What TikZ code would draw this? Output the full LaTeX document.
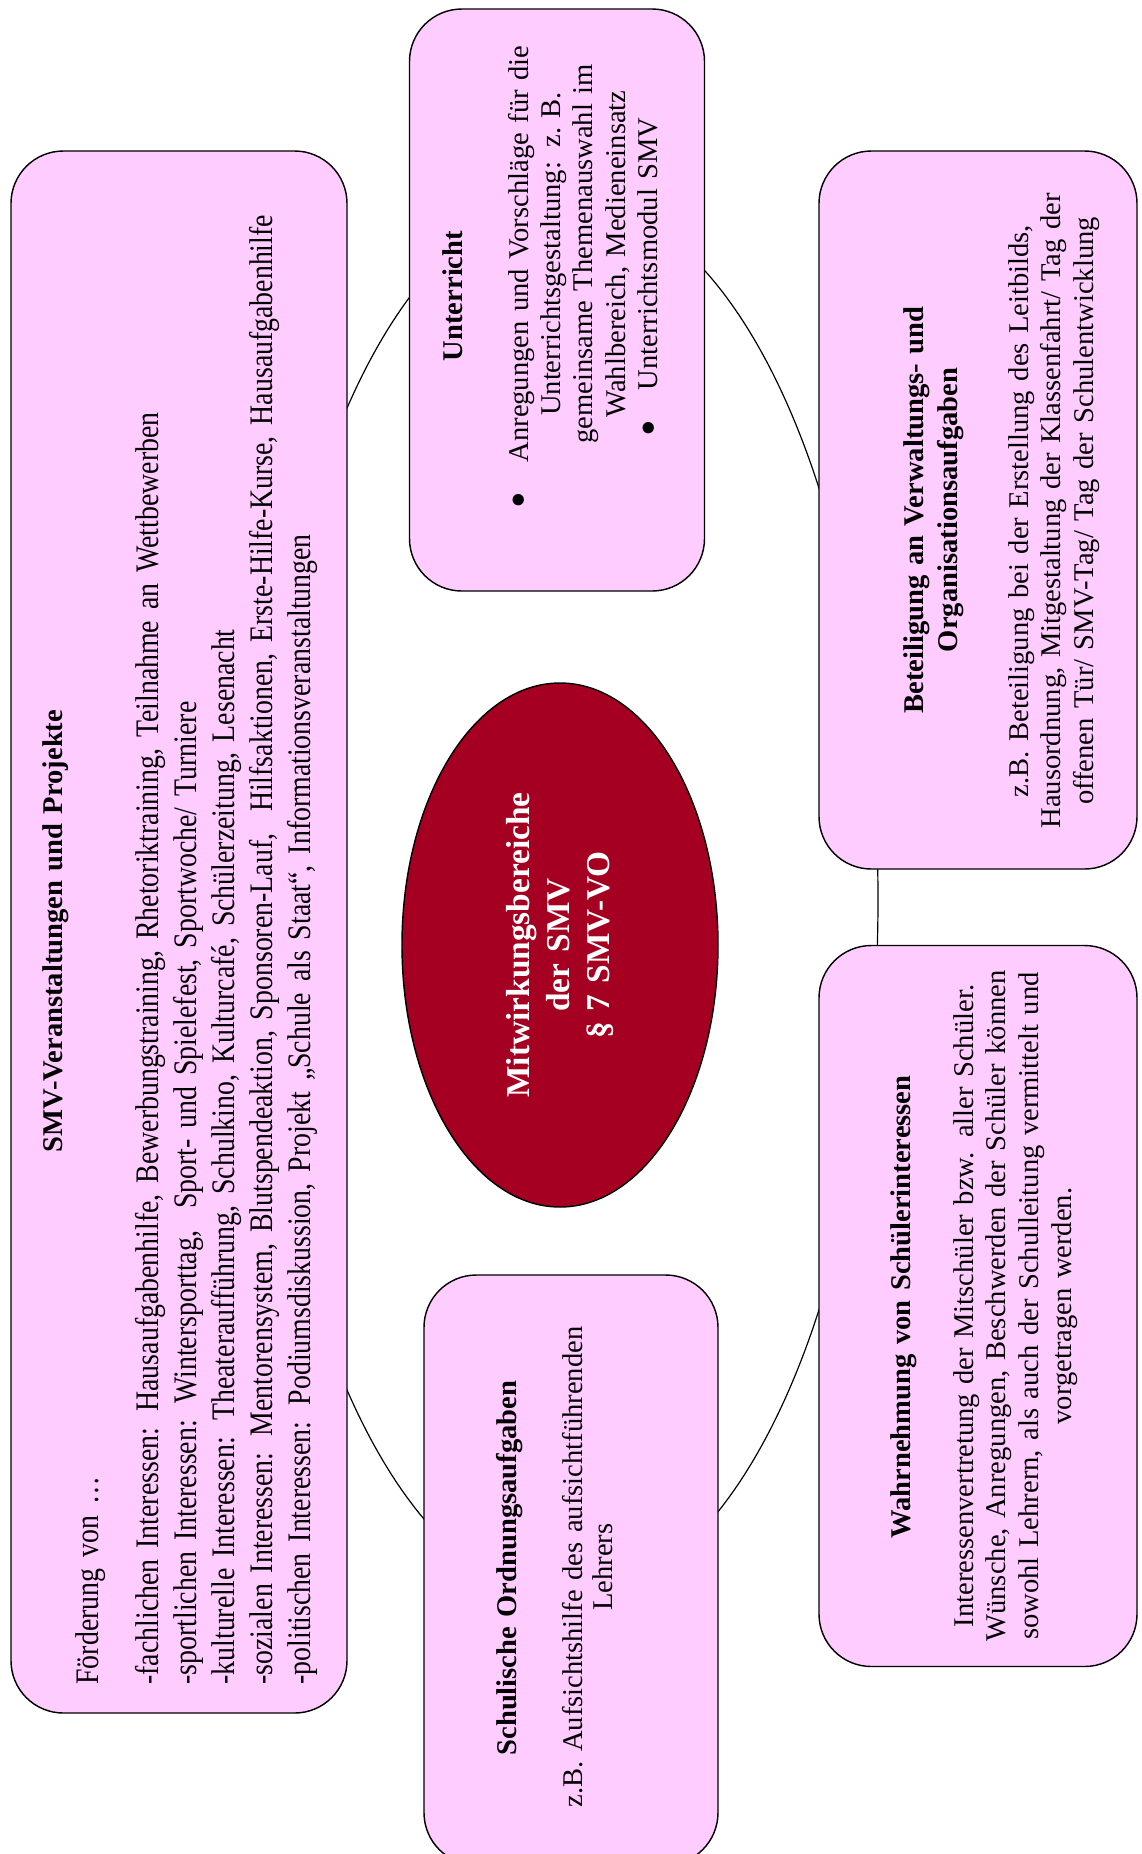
\documentclass[tikz,border=0pt]{standalone}
\usepackage{fontspec}
\setmainfont{Liberation Serif}
\newfontfamily\smvfont[FakeStretch=0.847]{Liberation Serif}
\usetikzlibrary{shapes.geometric}
\definecolor{smvPink}{RGB}{255,204,255}
\definecolor{smvRed}{RGB}{165,0,33}
\newcommand{\pxu}{0.42pt}
\newcommand{\punkt}{\leavevmode\llap{\raisebox{-2.9pt}{\fontsize{20}{20}\selectfont •}\hspace{12.25pt}}}

\begin{document}
\begin{tikzpicture}[
  x=\pxu, y=-\pxu,
  font=\fontsize{12}{13.8}\selectfont,
  feldbox/.style={draw=black,line width=0.6pt,fill=smvPink,rounded corners=22pt,rotate=90,inner sep=0pt},
  kopf/.style={rotate=90,inner sep=0pt,align=center,font=\fontsize{12}{14.3}\selectfont\bfseries},
  inhalt/.style={rotate=90,inner sep=0pt,align=center},
  kern/.style={ellipse,draw=black,line width=0.6pt,fill=smvRed,text=white,rotate=90,inner sep=0pt,align=center,font=\fontsize{14}{16.8}\selectfont\bfseries}
]
\useasboundingbox (0,0) rectangle (1141,1854);
\clip (0,0) rectangle (1141,1854);

% ring behind the fields
\node[ellipse,draw=black,line width=0.5pt,minimum width=620*\pxu,minimum height=1400*\pxu] (ring) at (568,899) {};

% fields
\node[feldbox,minimum width=1562*\pxu,minimum height=336*\pxu] (smv) at (179,932) {};
\node[feldbox,minimum width=582*\pxu,minimum height=295*\pxu] (unterricht) at (557,300) {};
\node[feldbox,minimum width=718*\pxu,minimum height=318*\pxu] (beteiligung) at (978,510) {};
\node[feldbox,minimum width=721*\pxu,minimum height=318*\pxu] (wahrnehmung) at (978,1306) {};
\node[feldbox,minimum width=590*\pxu,minimum height=294*\pxu] (ordnung) at (571,1570) {};

\node[kopf,anchor=base,text width=600*\pxu] (smv-kopf) at (62,931) {SMV-Veranstaltungen und Projekte};
\node[inhalt,align=left,anchor=base west,text width=1540*\pxu,font=\smvfont\fontsize{13.8}{16}\selectfont] (smv-text) at (98,1685) {Förderung von …\\[9.2pt]
-fachlichen Interessen: Hausaufgabenhilfe, Bewerbungstraining, Rhetoriktraining, Teilnahme an Wettbewerben\\
-sportlichen Interessen: Wintersporttag,\ \ Sport- und Spielefest, Sportwoche/ Turniere\\
-kulturelle Interessen: Theateraufführung, Schulkino, Kulturcafé, Schülerzeitung, Lesenacht\\
-sozialen Interessen: Mentorensystem, Blutspendeaktion, Sponsoren-Lauf,\ \ Hilfsaktionen, Erste-Hilfe-Kurse, Hausaufgabenhilfe\\
-politischen Interessen: Podiumsdiskussion, Projekt „Schule als Staat“, Informationsveranstaltungen};

\node[kopf,anchor=base,text width=400*\pxu] (unterricht-kopf) at (462,296) {Unterricht};
\node[inhalt,anchor=base,text width=440*\pxu,font=\fontsize{12}{13.6}\selectfont] (unterricht-text) at (528,254) {\punkt Anregungen und Vorschläge für die\\ Unterrichtsgestaltung: z.~B.\\ gemeinsame Themenauswahl im\\ Wahlbereich, Medieneinsatz\\ \punkt Unterrichtsmodul SMV};

\node[kopf,anchor=base,text width=500*\pxu] (beteiligung-kopf) at (923,510) {Beteiligung an Verwaltungs- und\\ Organisationsaufgaben};
\node[inhalt,anchor=base,text width=680*\pxu,font=\fontsize{12}{13.65}\selectfont] (beteiligung-text) at (1028,511) {z.B. Beteiligung bei der Erstellung des Leitbilds,\\ Hausordnung, Mitgestaltung der Klassenfahrt/ Tag der\\ offenen Tür/ SMV-Tag/ Tag der Schulentwicklung};

\node[kopf,anchor=base,text width=600*\pxu] (wahrnehmung-kopf) at (910,1307) {Wahrnehmung von Schülerinteressen};
\node[inhalt,anchor=base,text width=690*\pxu] (wahrnehmung-text) at (973,1306) {Interessenvertretung der Mitschüler bzw. aller Schüler.\\ Wünsche, Anregungen, Beschwerden der Schüler können\\ sowohl Lehrern, als auch der Schulleitung vermittelt und\\ vorgetragen werden.};

\node[kopf,anchor=base,text width=450*\pxu] (ordnung-kopf) at (516,1568) {Schulische Ordnungsaufgaben};
\node[inhalt,anchor=base,text width=520*\pxu,font=\fontsize{12}{13}\selectfont] (ordnung-text) at (582,1567) {z.B. Aufsichtshilfe des aufsichtführenden\\ Lehrers};

% centre
\node[kern,minimum width=524*\pxu,minimum height=316*\pxu,text width=330*\pxu] (mitte) at (560,945) {Mitwirkungsbereiche\\ der SMV\\ § 7 SMV-VO};
\end{tikzpicture}
\end{document}
